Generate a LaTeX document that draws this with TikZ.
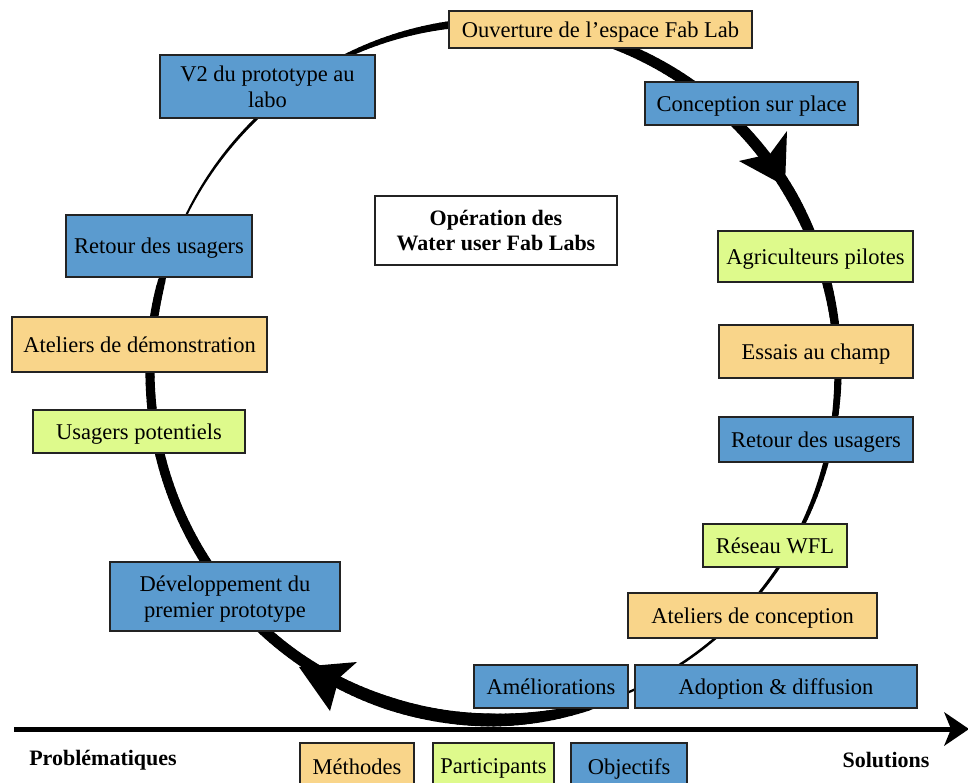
\documentclass[tikz,border=0pt]{standalone}
\usepackage{fontspec}
\setmainfont{Liberation Serif}
\definecolor{corange}{RGB}{249,213,138}
\definecolor{cgreen}{RGB}{222,250,140}
\definecolor{cblue}{RGB}{91,155,207}
\definecolor{cedge}{RGB}{35,35,35}
\begin{document}
\begin{tikzpicture}[x=1pt,y=-1pt,
  box/.style={draw=cedge, line width=1.3pt, inner sep=0pt, align=center,
    font=\fontsize{22.5}{26}\selectfont, text=black, text depth=0pt},
  ob/.style={box, fill=corange},
  gb/.style={box, fill=cgreen},
  bb/.style={box, fill=cblue},
  lbl/.style={font=\bfseries\fontsize{22}{26}\selectfont, inner sep=0pt}]
\clip (0,0) rectangle (968,782);
\fill[white] (0,0) rectangle (968,782);

% tapered cycle strokes
\foreach \ta/\wa/\tb/\wb in {-160/0.6/-154/2, -154/2/-134/3, -134/3/-115/4.5, -115/4.5/-98/7.5, -98/7.5/-80/9.5, -80/9.5/-55/11, -55/11/-30/11.5, -30/11.5/-13/9, -13/9/3/7, 3/7/18/5, 18/5/30/3.5, 30/3.5/40/2.8, 40/2.8/70/2.2,
  68/0.5/74/8, 74/8/82/11, 82/11/90/13, 90/13/108/13, 108/13/125/11, 125/11/147/10, 147/10/166/9.5, 166/9.5/183/9, 183/9/194/8, 194/8/204/0.5} {
  \pgfmathtruncatemacro\nn{max(1,abs(\tb-\ta))}
  \foreach \i in {1,...,\nn} {
    \pgfmathsetmacro\tA{\ta+(\i-1)*(\tb-\ta)/\nn}
    \pgfmathsetmacro\tB{\ta+\i*(\tb-\ta)/\nn}
    \pgfmathsetmacro\ww{\wa+(\i-0.5)*(\wb-\wa)/\nn}
    \draw[line width=\ww pt, line cap=round]
      ({494+344*cos(\tA)},{371+349*sin(\tA)}) -- ({494+344*cos(\tB)},{371+349*sin(\tB)});
  }
}
% arrowheads on the cycle
\fill (785,186) -- (739,161) -- (770,154) -- (787,131) -- cycle;
\fill (299,667) -- (357,662) -- (339,678) -- (330,711) -- cycle;

% axis
\coordinate (axL) at (14,729);
\coordinate (axR) at (952,729);
\draw[line width=5pt] (axL) -- (axR);
\fill (969,729) -- (944,712) -- (951,729) -- (944,746) -- cycle;

% boxes
\node[ob, minimum width=303pt, minimum height=37pt] (ouv) at (600.5,29.5) {Ouverture de l’espace Fab Lab};
\node[bb, minimum width=213pt, minimum height=43pt] (concep) at (751.5,103.5) {Conception sur place};
\node[bb, minimum width=215pt, minimum height=63pt] (v2) at (267.5,86.5) {V2 du prototype au\\labo};
\node[bb, minimum width=186pt, minimum height=62pt] (retL) at (159,246) {Retour des usagers};
\node[ob, minimum width=255pt, minimum height=55pt] (demo) at (139.5,344.5) {Ateliers de démonstration};
\node[gb, minimum width=212pt, minimum height=43pt] (usag) at (139,431.5) {Usagers potentiels};
\node[bb, minimum width=230pt, minimum height=69pt] (dev) at (225,596.5) {Développement du\\premier prototype};
\node[box, fill=white, font=\bfseries\fontsize{22}{25}\selectfont, minimum width=242pt, minimum height=69pt] (op) at (496,230.5) {Opération des\\Water user Fab Labs};
\node[gb, minimum width=195pt, minimum height=51pt] (agri) at (815.5,256.5) {Agriculteurs pilotes};
\node[ob, minimum width=194pt, minimum height=53pt] (ess) at (816,351.5) {Essais au champ};
\node[bb, minimum width=194pt, minimum height=45pt] (retR) at (816,439.5) {Retour des usagers};
\node[gb, minimum width=144pt, minimum height=43pt] (res) at (775,545.5) {Réseau WFL};
\node[ob, minimum width=249pt, minimum height=45pt] (conc) at (752.5,615.5) {Ateliers de conception};
\node[bb, minimum width=282pt, minimum height=43pt] (adop) at (776,686.5) {Adoption \& diffusion};
\node[bb, minimum width=154pt, minimum height=43pt] (amel) at (551,686.5) {Améliorations};

% legend
\node[lbl] (prob) at (103,760) {Problématiques};
\node[lbl] (sol) at (886,760) {Solutions};
\node[ob, minimum width=114pt, minimum height=47pt] (meth) at (357,766.5) {Méthodes};
\node[gb, minimum width=121pt, minimum height=47pt] (part) at (493.5,766.5) {Participants};
\node[bb, minimum width=116pt, minimum height=47pt] (obj) at (629,766.5) {Objectifs};
\end{tikzpicture}
\end{document}
